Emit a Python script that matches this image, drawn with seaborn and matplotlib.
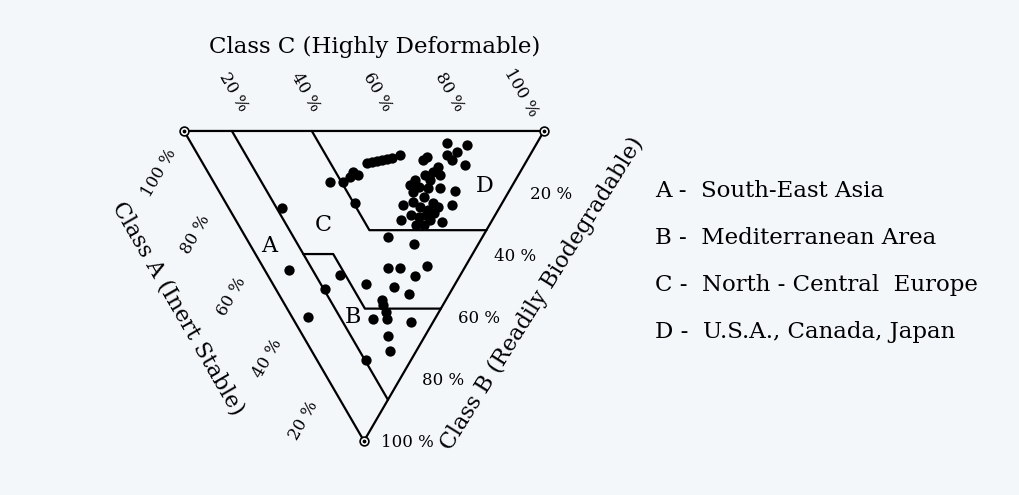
import numpy as np
import pandas as pd
import matplotlib
matplotlib.use("Agg")
import matplotlib.pyplot as plt
import seaborn as sns

# ---- data: ternary compositions (percent of Class B and Class C; Class A = rest)
class_b = [16.5, 16.5, 14.8, 13.2, 14.2, 10.3, 10.0, 9.8, 9.4, 9.0, 8.7, 7.7, 23.2,
           3.9, 4.5, 9.4, 11.0, 8.4, 9.4, 11.6, 13.2, 15.8, 18.1, 18.4, 19.4, 19.7,
           21.3, 23.9, 24.5, 23.2, 23.9, 22.9, 28.7, 27.7, 28.7, 29.4, 30.3, 26.5,
           25.5, 24.5, 18.4, 15.8, 6.8, 14.2, 27.1, 17.4, 27.1, 30.3, 14.2, 7.7,
           34.2, 36.5, 44.2, 44.2, 43.5, 46.8, 50.3, 52.6, 49.4, 46.5, 51.0, 24.8,
           56.1, 58.4, 60.6, 60.6, 61.6, 66.1, 71.0, 54.5,
           44.8, 60.0, 73.9]
class_c = [32.4, 36.0, 38.8, 40.4, 41.3, 45.7, 47.3, 48.8, 50.4, 51.9, 53.5, 56.2, 36.0,
           71.1, 76.4, 69.8, 72.6, 63.4, 61.8, 64.8, 62.6, 56.4, 56.1, 62.0, 65.7, 53.9,
           55.9, 48.8, 53.4, 57.7, 62.6, 52.3, 45.8, 51.3, 54.1, 57.1, 51.4, 56.1,
           54.9, 58.4, 58.7, 60.5, 72.5, 59.9, 49.4, 54.2, 53.6, 49.2, 64.1, 69.2,
           39.5, 45.6, 34.5, 37.9, 45.7, 40.8, 33.2, 36.2, 25.9, 20.1, 13.7, 14.9,
           27.3, 27.0, 22.2, 26.1, 32.3, 23.7, 21.6, 27.8,
           6.7, 4.5, 13.5]

tick_values = [20, 40, 60, 80, 100]
tick_labels = ["20 %", "40 %", "60 %", "80 %", "100 %"]

# region boundaries as (B%, C%) polylines
boundary_1 = {"b": [0, 86.7], "c": [13.3, 13.3]}
boundary_d = {"b": [0, 32.0, 32.0], "c": [35.5, 35.5, 68.0]}
boundary_b = {"b": [39.7, 39.7, 57.3, 57.3], "c": [13.3, 21.6, 21.6, 42.7]}

region_letters = ["A", "C", "B", "D"]
region_b = [37.1, 30.3, 60.0, 17.7]
region_c = [5.0, 23.6, 17.0, 74.6]

legend_lines = ["A -  South-East Asia", "B -  Mediterranean Area",
                "C -  North - Central  Europe", "D -  U.S.A., Canada, Japan"]

H = np.sqrt(3) / 2


def proj(b, c):
    b = np.asarray(b, float) / 100.0
    c = np.asarray(c, float) / 100.0
    a = 1 - b - c
    return 0.5 * b + c, H * (a + c)


sns.set_theme(style="white")
plt.rcParams["font.family"] = ["DejaVu Serif", "Liberation Serif"]
plt.rcParams["text.color"] = "black"

BG = "#f4f7fa"
fig = plt.figure(figsize=(10.2, 4.95), dpi=100, facecolor=BG)
ax = fig.add_axes([0, 0, 1, 1])
ax.set_facecolor(BG)
ax.set_xlim(-184 / 360, (1020 - 184) / 360)
ax.set_ylim(-54 / 358, 441 / 358)
ax.axis("off")

lw = 1.6
# triangle outline
tb = [0, 0, 100, 0]
tc = [0, 100, 0, 0]
tx, ty = proj(tb, tc)
ax.plot(tx, ty, color="black", lw=lw, solid_joinstyle="miter")

for bd in (boundary_1, boundary_d, boundary_b):
    x, y = proj(bd["b"], bd["c"])
    ax.plot(x, y, color="black", lw=lw)

# data points
px, py = proj(class_b, class_c)
df = pd.DataFrame({"x": px, "y": py})
sns.scatterplot(data=df, x="x", y="y", ax=ax, color="black", s=55,
                edgecolor="black", linewidth=0, zorder=4, legend=False)

# vertex markers
vx, vy = proj([0, 0, 100], [0, 100, 0])
ax.scatter(vx, vy, s=40, facecolor="white", edgecolor="black", linewidth=1.2, zorder=5)
ax.scatter(vx, vy, s=3, color="black", zorder=6)

fs_tick = 12
off = 0.125
# Class C ticks (top edge)
for v, lab in zip(tick_values, tick_labels):
    x, y = proj(0, v)
    ax.text(x - 0.5 * off, y + H * off, lab, rotation=-60, rotation_mode="anchor",
            ha="center", va="center", fontsize=fs_tick)
# Class A ticks (left edge)
for v, lab in zip(tick_values, tick_labels):
    x, y = proj(100 - v, 0)
    o = 0.135
    ax.text(x - 0.5 * o, y - H * o, lab, rotation=60, rotation_mode="anchor",
            ha="center", va="center", fontsize=fs_tick)
# Class B ticks (right edge)
for v, lab in zip(tick_values, tick_labels):
    x, y = proj(v, 100 - v)
    ax.text(x + 0.12, y - 0.005, lab, ha="center", va="center", fontsize=fs_tick)

fs_title = 16.5
fs_axis = 16
ax.text((375 - 184) / 360, (441 - 47) / 358, "Class C (Highly Deformable)",
        ha="center", va="center", fontsize=fs_title)
ax.text((178 - 184) / 360, (441 - 308) / 358, "Class A (Inert Stable)",
        rotation=-60, rotation_mode="anchor", ha="center", va="center", fontsize=fs_axis)
ax.text((542 - 184) / 360, (441 - 294) / 358, "Class B (Readily Biodegradable)",
        rotation=58, rotation_mode="anchor", ha="center", va="center", fontsize=fs_axis)

# region letters
rx, ry = proj(region_b, region_c)
for x, y, s in zip(rx, ry, region_letters):
    ax.text(x, y, s, ha="center", va="center", fontsize=16)

# legend text
for i, s in enumerate(legend_lines):
    ypx = 191 + 47 * i
    ax.text((655 - 184) / 360, (441 - ypx) / 358, s, ha="left", va="center",
            fontsize=fs_title)

fig.savefig("out.png", dpi=100, facecolor=BG)
